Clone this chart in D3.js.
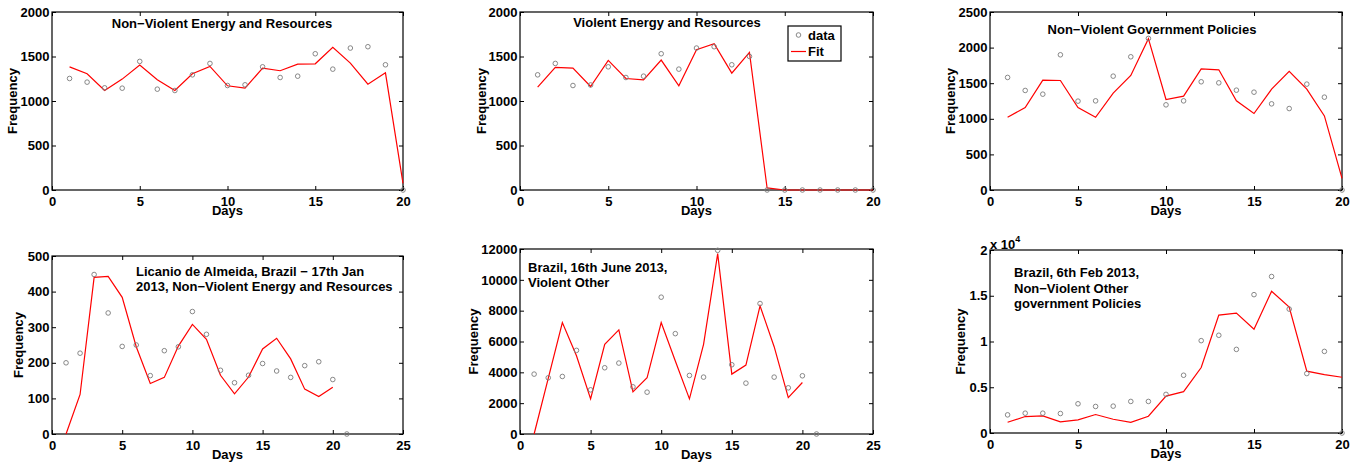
<!DOCTYPE html>
<html>
<head>
<meta charset="utf-8">
<script src="https://cdn.jsdelivr.net/npm/d3@7/dist/d3.min.js"></script>
<style>
  body { margin: 0; background: #fff; }
  svg text { font-family: "Liberation Sans", Arial, sans-serif; font-weight: bold; fill: #000; }
</style>
</head>
<body>
<svg id="chart" width="1355" height="464"></svg>
<script>
// days on the x axis
const days20 = [1, 2, 3, 4, 5, 6, 7, 8, 9, 10, 11, 12, 13, 14, 15, 16, 17, 18, 19, 20]
const days21 = [1, 2, 3, 4, 5, 6, 7, 8, 9, 10, 11, 12, 13, 14, 15, 16, 17, 18, 19, 20, 21]

// top row
const nvEnergyData = [1253, 1212, 1148, 1144, 1445, 1133, 1118, 1294, 1422, 1174, 1182, 1384, 1264, 1279, 1531, 1358, 1595, 1610, 1407, 0]
const nvEnergyFit = [1384, 1306, 1118, 1246, 1403, 1238, 1118, 1306, 1388, 1171, 1144, 1369, 1340, 1415, 1418, 1602, 1426, 1189, 1317, 75]

const vEnergyData = [1294, 1422, 1174, 1180, 1384, 1264, 1279, 1531, 1358, 1595, 1610, 1407, 1501, 0, 0, 0, 0, 0, 0, 0]
const vEnergyFit = [1156, 1377, 1369, 1163, 1456, 1253, 1238, 1460, 1171, 1576, 1643, 1313, 1546, 23, 0, 0, 0, 0, 0, 0]

const nvGovData = [1581, 1398, 1346, 1899, 1248, 1252, 1599, 1871, 2129, 1196, 1252, 1520, 1505, 1402, 1374, 1210, 1144, 1487, 1304, 0]
const nvGovFit = [1022, 1158, 1543, 1538, 1158, 1022, 1360, 1609, 2125, 1271, 1318, 1702, 1688, 1252, 1074, 1416, 1665, 1416, 1041, 164]

// bottom row
const licanioData = [200, 227, 448, 340, 246, 250, 164, 234, 245, 344, 280, 179, 144, 165, 198, 177, 159, 192, 203, 153, 0]
const licanioFit = [0, 111, 440, 443, 384, 245, 142, 159, 247, 308, 266, 165, 113, 160, 239, 269, 211, 126, 105, 131]

const juneData = [3884, 3646, 3732, 5425, 2864, 4297, 4600, 3060, 2713, 8875, 6510, 3798, 3689, 11913, 4492, 3298, 8463, 3689, 2995, 3776, 0]
const juneFit = [0, 3602, 7226, 5078, 2279, 5816, 6749, 2734, 3646, 7226, 4731, 2279, 5816, 11696, 3884, 4470, 8311, 5664, 2365, 3342]

const febData = [1982, 2165, 2165, 2129, 3193, 2899, 2936, 3450, 3450, 4221, 6312, 10093, 10680, 9138, 15120, 17102, 13542, 6496, 8918, 0]
const febFit = [1174, 1798, 1872, 1211, 1431, 2019, 1505, 1174, 1835, 4037, 4514, 7157, 12882, 13102, 11340, 15487, 13763, 6753, 6386, 6092]

// tick values
const xTicks20 = [0, 5, 10, 15, 20]
const xTicks25 = [0, 5, 10, 15, 20, 25]
const yTicks2000 = [0, 500, 1000, 1500, 2000]
const yTicks2500 = [0, 500, 1000, 1500, 2000, 2500]
const yTicks500 = [0, 100, 200, 300, 400, 500]
const yTicks12000 = [0, 2000, 4000, 6000, 8000, 10000, 12000]
const yTicks20000 = [0, 5000, 10000, 15000, 20000]

const panels = [
  {
    box: [52, 12, 403, 190], xMax: 20, yMax: 2000, xTicks: xTicks20, yTicks: yTicks2000,
    dataX: days20, data: nvEnergyData, fitX: days20, fit: nvEnergyFit, yLabelOff: 35,
    title: ["Non\u2212Violent Energy and Resources"], anchor: "middle", titleX: 222, titleY: 28
  },
  {
    box: [520, 12, 873, 190], xMax: 20, yMax: 2000, xTicks: xTicks20, yTicks: yTicks2000,
    dataX: days20, data: vEnergyData, fitX: days20, fit: vEnergyFit, yLabelOff: 34,
    title: ["Violent Energy and Resources"], anchor: "middle", titleX: 667, titleY: 27,
    legend: true
  },
  {
    box: [990, 12, 1342, 190], xMax: 20, yMax: 2500, xTicks: xTicks20, yTicks: yTicks2500,
    dataX: days20, data: nvGovData, fitX: days20, fit: nvGovFit, yLabelOff: 35,
    title: ["Non\u2212Violent Government Policies"], anchor: "middle", titleX: 1152, titleY: 34
  },
  {
    box: [52, 256, 403, 434], xMax: 25, yMax: 500, xTicks: xTicks25, yTicks: yTicks500,
    dataX: days21, data: licanioData, fitX: days20, fit: licanioFit, yLabelOff: 29,
    title: ["Licanio de Almeida, Brazil \u2212 17th Jan", "2013, Non\u2212Violent Energy and Resources"],
    anchor: "start", titleX: 136, titleY: 276, lineGap: 14.7
  },
  {
    box: [520, 249, 873, 434], xMax: 25, yMax: 12000, xTicks: xTicks25, yTicks: yTicks12000,
    dataX: days21, data: juneData, fitX: days20, fit: juneFit, yLabelOff: 42,
    title: ["Brazil, 16th June 2013,", "Violent Other"],
    anchor: "start", titleX: 528, titleY: 272, lineGap: 15
  },
  {
    box: [990, 250, 1342, 433], xMax: 20, yMax: 20000, xTicks: xTicks20, yTicks: yTicks20000,
    dataX: days20, data: febData, fitX: days20, fit: febFit, yLabelOff: 25,
    title: ["Brazil, 6th Feb 2013,", "Non\u2212Violent Other", "government Policies"],
    anchor: "start", titleX: 1014, titleY: 277, lineGap: 15.5,
    yFormat: d => d3.format("~g")(d / 10000), exponent: true
  }
]

const svg = d3.select("#chart")
const TICK = 4

function drawPanel (p) {
  const [x0, y0, x1, y1] = p.box
  const x = d3.scaleLinear().domain([0, p.xMax]).range([x0, x1])
  const y = d3.scaleLinear().domain([0, p.yMax]).range([y1, y0])
  const g = svg.append("g").attr("class", "panel")

  // axes, ticks point inwards like matlab
  const axisText = sel => sel.selectAll("text").style("font-size", "13px").attr("fill", "#000")
  g.append("g")
    .attr("transform", `translate(0,${y1})`)
    .call(d3.axisBottom(x).tickValues(p.xTicks).tickSize(-TICK).tickPadding(6.5))
    .call(axisText)
  g.append("g")
    .attr("transform", `translate(0,${y0})`)
    .call(d3.axisTop(x).tickValues(p.xTicks).tickSize(-TICK).tickFormat(""))
  g.append("g")
    .attr("transform", `translate(${x0},0)`)
    .call(d3.axisLeft(y).tickValues(p.yTicks).tickSize(-TICK).tickPadding(2.5)
      .tickFormat(p.yFormat || d3.format("d")))
    .call(axisText)
  g.append("g")
    .attr("transform", `translate(${x1},0)`)
    .call(d3.axisRight(y).tickValues(p.yTicks).tickSize(-TICK).tickFormat(""))
  g.selectAll(".domain").remove()
  g.selectAll(".tick line").attr("stroke", "#000")

  g.append("rect")
    .attr("x", x0).attr("y", y0)
    .attr("width", x1 - x0).attr("height", y1 - y0)
    .attr("fill", "none").attr("stroke", "#000").attr("stroke-width", 1.2)

  // fit line
  const line = d3.line()
    .x((d, i) => x(p.fitX[i]))
    .y(d => y(d))
  g.append("path")
    .datum(p.fit)
    .attr("d", line)
    .attr("fill", "none")
    .attr("stroke", "#ff0000")
    .attr("stroke-width", 1.2)

  // data points
  g.selectAll("circle.pt")
    .data(p.data)
    .enter().append("circle")
    .attr("class", "pt")
    .attr("cx", (d, i) => x(p.dataX[i]))
    .attr("cy", d => y(d))
    .attr("r", 2.3)
    .attr("fill", "none")
    .attr("stroke", "#7a7a7a")
    .attr("stroke-width", 0.9)

  // title
  const t = g.append("text")
    .attr("x", p.titleX)
    .attr("y", p.titleY)
    .attr("text-anchor", p.anchor)
    .style("font-size", "13px")
  p.title.forEach((s, i) => {
    t.append("tspan").attr("x", p.titleX).attr("dy", i === 0 ? 0 : p.lineGap).text(s)
  })

  // axis labels
  g.append("text")
    .attr("x", (x0 + x1) / 2)
    .attr("y", y1 + 24.5)
    .attr("text-anchor", "middle")
    .style("font-size", "13px")
    .text("Days")
  g.append("text")
    .attr("transform", `translate(${x0 - p.yLabelOff},${(y0 + y1) / 2}) rotate(-90)`)
    .attr("text-anchor", "middle")
    .style("font-size", "13px")
    .text("Frequency")

  if (p.exponent) {
    const e = g.append("text")
      .attr("x", x0)
      .attr("y", y0 - 1)
      .style("font-size", "13px")
    e.append("tspan").text("x 10")
    e.append("tspan").attr("dy", -7).style("font-size", "9px").text("4")
  }

  if (p.legend) {
    const lg = g.append("g")
    lg.append("rect")
      .attr("x", 788).attr("y", 26).attr("width", 53).attr("height", 35)
      .attr("fill", "#fff").attr("stroke", "#000").attr("stroke-width", 1.2)
    lg.append("circle")
      .attr("cx", 798.5).attr("cy", 35).attr("r", 2.3)
      .attr("fill", "none").attr("stroke", "#7a7a7a").attr("stroke-width", 0.9)
    lg.append("line")
      .attr("x1", 791).attr("x2", 806).attr("y1", 51.5).attr("y2", 51.5)
      .attr("stroke", "#ff0000").attr("stroke-width", 1.2)
    lg.append("text").attr("x", 808).attr("y", 39.5).style("font-size", "13px").text("data")
    lg.append("text").attr("x", 808).attr("y", 56).style("font-size", "13px").text("Fit")
  }
}

panels.forEach(drawPanel)
</script>
</body>
</html>
